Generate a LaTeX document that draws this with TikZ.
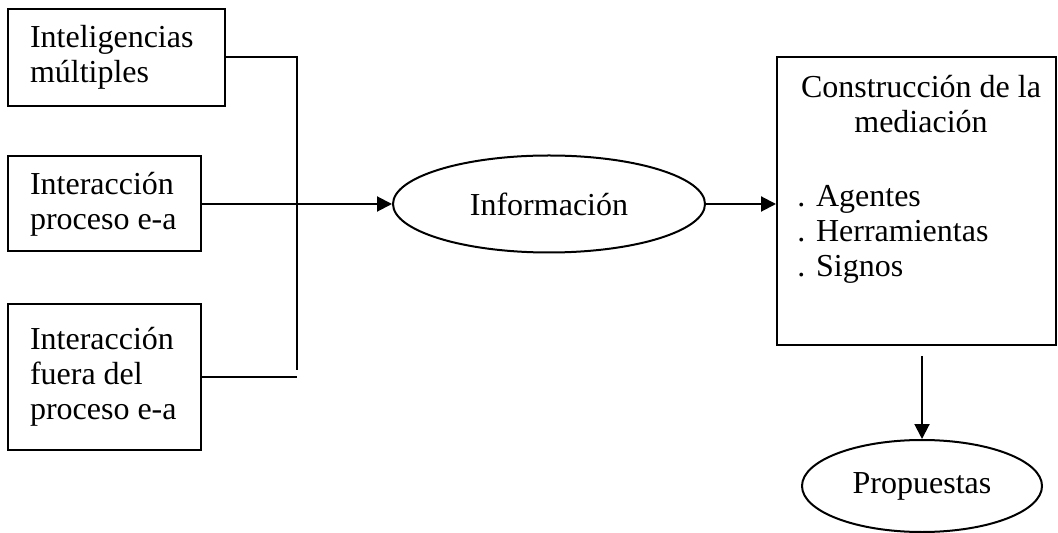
\documentclass[tikz,border=0pt]{standalone}
\usepackage{fontspec}
\setmainfont{Liberation Serif}
\usetikzlibrary{arrows.meta,shapes.geometric}
\begin{document}
\begin{tikzpicture}[x=0.5pt,y=-0.5pt,
  every node/.style={font=\fontsize{16}{17.5}\selectfont},
  box/.style={draw,line width=1pt,rectangle,inner xsep=11pt,inner ysep=0pt,align=flush left},
  oval/.style={draw,line width=1pt,ellipse,inner sep=0pt},
  conn/.style={line width=1pt},
  arr/.style={line width=1pt,-{Triangle[length=7.5pt,width=7.5pt]}}]
\useasboundingbox (0,0) rectangle (1058,533);
\node[box,text width=86.5pt,minimum height=48.5pt] (b1) at (116.5,57.5) {Inteligencias\\múltiples};
\node[box,text width=74.5pt,minimum height=47.5pt] (b2) at (104.5,204) {Interacción\\proceso~e-a};
\node[box,text width=74.5pt,minimum height=72.5pt] (b3) at (104.5,377) {Interacción\\fuera del\\proceso~e-a};
\node[oval,minimum width=156pt,minimum height=48.5pt] (info) at (549,204) {Información};
\node[draw,line width=1pt,rectangle,minimum width=139.5pt,minimum height=144pt,inner sep=0pt] (med) at (916.5,201) {};
\node[anchor=base,inner sep=0pt,align=center] (medtitle) at (921,133) {Construcción de la\\mediación};
\node[anchor=base west,inner sep=0pt,align=left] (medlist) at (797,277) {. Agentes\\. Herramientas\\. Signos};
\node[oval,minimum width=120pt,minimum height=46pt] (prop) at (922,486) {Propuestas};
\coordinate (jb) at (297,370);
\draw[conn] (b1.east) -| (jb);
\draw[conn] (b3.east) -- (b3.east -| jb);
\draw[arr] (b2.east) -- (info.west);
\draw[arr] (info.east) -- (info.east -| med.west);
\draw[arr,shorten <=5pt] (prop.north |- med.south) -- (prop.north);
\end{tikzpicture}
\end{document}
